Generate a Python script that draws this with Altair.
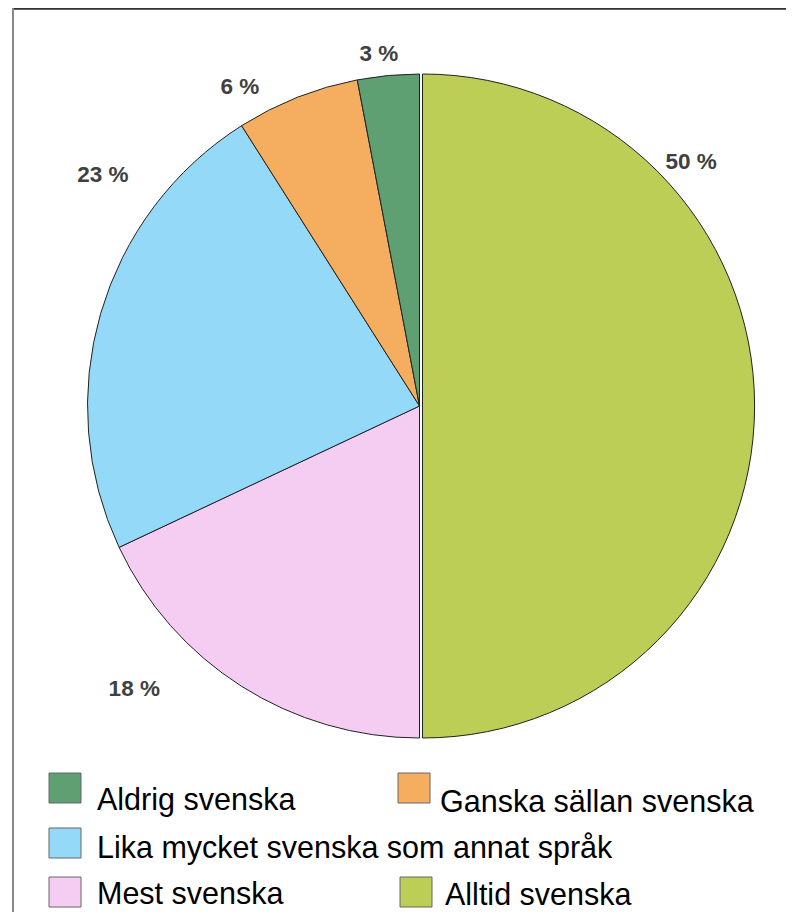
import math
import altair as alt
import pandas as pd

# ---------------- data ----------------
categories = ["Alltid svenska", "Mest svenska", "Lika mycket svenska som annat språk",
              "Ganska sällan svenska", "Aldrig svenska"]
values = [50, 18, 23, 6, 3]
labels = ["50 %", "18 %", "23 %", "6 %", "3 %"]
colors = ["#BCCE55", "#F5CDF2", "#95D9F8", "#F5AD5F", "#5FA073"]

# legend order / layout (Excel-like free layout)
legend_items = ["Aldrig svenska", "Ganska sällan svenska", "Lika mycket svenska som annat språk",
                "Mest svenska", "Alltid svenska"]

# ---------------- layout / style ----------------
W, H = 778, 904
CX, CY = 411.5, 398
R = 332
EXPLODE = 3
FONT = "Liberation Sans"
label_angle_deg = [48.1, 225.2, 306.1, 330.6, 353.4]
label_dist = [365, 402, 392, 366, 354]
legend_swatch_x = [41, 390, 41, 41, 392]
legend_swatch_y = [765, 765, 820, 869, 869]
legend_text_x = [89, 432, 89, 89, 437]
legend_text_y = [802, 804, 850, 896, 897]
SW = 32  # swatch size

total = sum(values)
df = pd.DataFrame({"category": categories, "value": values, "order": list(range(len(values)))})

color_scale = alt.Scale(domain=categories, range=colors)
theta_scale = alt.Scale(domain=[0, total], range=[0, 2 * math.pi])

base = alt.Chart(df).transform_window(
    cum="sum(value)", sort=[alt.SortField("order")], frame=[None, 0]
).transform_calculate(start="datum.cum - datum.value")

arc_enc = dict(
    theta=alt.Theta("start:Q", scale=theta_scale),
    theta2="cum:Q",
    color=alt.Color("category:N", scale=color_scale, legend=None),
)

slices = base.transform_filter(alt.datum.category != categories[0]).mark_arc(
    outerRadius=R, stroke="#222222", strokeWidth=1
).encode(x=alt.value(CX), y=alt.value(CY), **arc_enc)

exploded = base.transform_filter(alt.datum.category == categories[0]).mark_arc(
    outerRadius=R, stroke="#222222", strokeWidth=1
).encode(x=alt.value(CX + EXPLODE), y=alt.value(CY), **arc_enc)

lab_df = pd.DataFrame({
    "label": labels,
    "th": [math.radians(a) for a in label_angle_deg],
    "r": label_dist,
})
label_layer = alt.Chart(lab_df).mark_text(
    font=FONT, fontSize=22.5, fontWeight="bold", color="#404040", align="center", baseline="middle"
).encode(
    x=alt.value(CX), y=alt.value(CY),
    theta=alt.Theta("th:Q", scale=None),
    radius=alt.Radius("r:Q", scale=None),
    text="label:N",
)

leg_df = pd.DataFrame({
    "category": legend_items,
    "sx": legend_swatch_x,
    "sx2": [v + SW for v in legend_swatch_x],
    "sy": legend_swatch_y,
    "sy2": [v + 30 for v in legend_swatch_y],
    "tx": legend_text_x,
    "ty": legend_text_y,
})
leg_rect = alt.Chart(leg_df).mark_rect(stroke="#666666", strokeWidth=1).encode(
    x=alt.X("sx:Q", scale=None, axis=None), x2="sx2:Q",
    y=alt.Y("sy:Q", scale=None, axis=None), y2="sy2:Q",
    color=alt.Color("category:N", scale=color_scale, legend=None),
)
leg_text = alt.Chart(leg_df).mark_text(
    font=FONT, fontSize=30.5, color="#000000", align="left", baseline="alphabetic"
).encode(
    x=alt.X("tx:Q", scale=None, axis=None),
    y=alt.Y("ty:Q", scale=None, axis=None),
    text="category:N",
)

frame_top = alt.Chart(df).mark_rule(color="#333333", strokeWidth=1.5).encode(
    x=alt.value(5), x2=alt.value(W), y=alt.value(0.5)
)
frame_left = alt.Chart(df).mark_rule(color="#888888", strokeWidth=2).encode(
    x=alt.value(5), y=alt.value(0), y2=alt.value(H)
)

chart = alt.layer(
    slices, exploded, label_layer, leg_rect, leg_text, frame_top, frame_left
).resolve_scale(theta="independent", radius="independent").properties(
    width=W, height=H, padding=0, autosize=alt.AutoSizeParams(type="none")
).configure_view(stroke=None)

chart.save("out.html", embed_options={"renderer": "svg", "actions": False})
